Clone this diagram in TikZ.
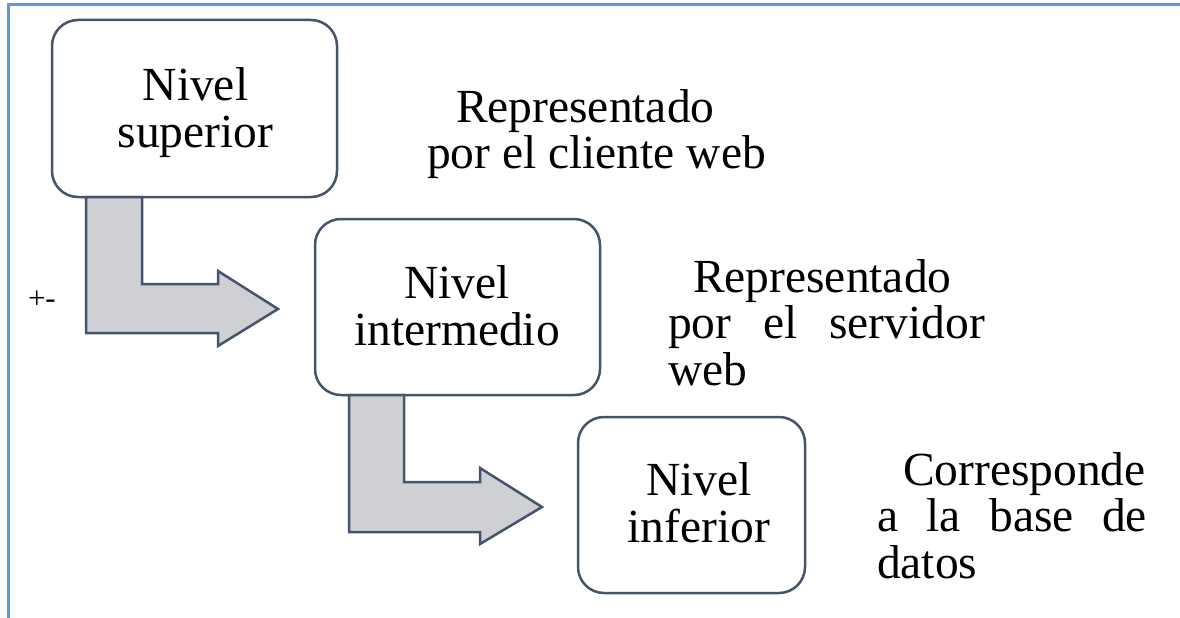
\documentclass[tikz,border=0pt]{standalone}
\usepackage{fontspec}
\setmainfont{Liberation Serif}
\definecolor{edge}{HTML}{44546A}
\definecolor{arrowfill}{RGB}{206,208,212}
\definecolor{frameblue}{HTML}{5B9BD5}
\newcommand{\bigtxt}{\fontsize{47.5pt}{47.5pt}\selectfont}
\newcommand{\sidetxt}{\fontsize{47.5pt}{46.5pt}\selectfont}
\tikzset{
  lvlbox/.style={draw=edge, line width=2.5pt, rounded corners=26pt, fill=white, inner sep=0pt, outer sep=0pt},
  blockarrow/.style={draw=edge, line width=2.5pt, fill=arrowfill, line join=miter},
  lbl/.style={inner sep=0pt, outer sep=0pt, anchor=base, text=black},
  side/.style={inner sep=0pt, outer sep=0pt, anchor=base west, text=black},
  frameline/.style={draw=frameblue, line width=3pt}
}
\begin{document}
\begin{tikzpicture}[x=1pt, y=-1pt]
\useasboundingbox (0,0) rectangle (1180,618);
% frame lines
\coordinate (ftl) at (8,4.7);
\coordinate (ftr) at (1180,4.7);
\coordinate (fbl) at (8,618);
\draw[frameline] (fbl) -- (ftl) -- (ftr);

% boxes
\node[lvlbox, minimum width=285pt, minimum height=177pt] (b1) at (194.5,108.5) {};
\node[lvlbox, minimum width=285pt, minimum height=176pt] (b2) at (457.5,307) {};
\node[lvlbox, minimum width=227pt, minimum height=176pt] (b3) at (691.5,505) {};

% block arrows
\draw[blockarrow] (86,197) -- (142,197) -- (142,284) -- (218,284) -- (218,271) -- (278,309)
  -- (218,346) -- (218,333) -- (86,333) -- cycle;
\draw[blockarrow] (349,395) -- (404,395) -- (404,482) -- (480,482) -- (480,468) -- (542,507)
  -- (480,544) -- (480,532) -- (349,532) -- cycle;

% box labels
\node[lbl] (l1) at (195.5,100) {\parbox[t]{300pt}{\bigtxt\centering Nivel\\superior}};
\node[lbl] (l2) at (457,298) {\parbox[t]{300pt}{\bigtxt\centering Nivel\\intermedio}};
\node[lbl] (l3) at (699,495) {\parbox[t]{300pt}{\bigtxt\centering Nivel\\inferior}};

% side texts
\node[side] (r1) at (427,122) {\parbox[t]{345pt}{\sidetxt\hspace*{29pt}Representado\\por el cliente web}};
\node[side] (r2) at (668,292) {\parbox[t]{320pt}{\sidetxt\hspace*{25pt}Representado\\\makebox[317pt][s]{por el servidor}\\web}};
\node[side] (r3) at (877,485) {\parbox[t]{275pt}{\sidetxt\hspace*{26pt}Corresponde\\\makebox[270pt][s]{a la base de}\\datos}};

% small mark
\node[side, font=\fontsize{31pt}{31pt}\selectfont] (pm) at (28,308) {+-};
\end{tikzpicture}
\end{document}
